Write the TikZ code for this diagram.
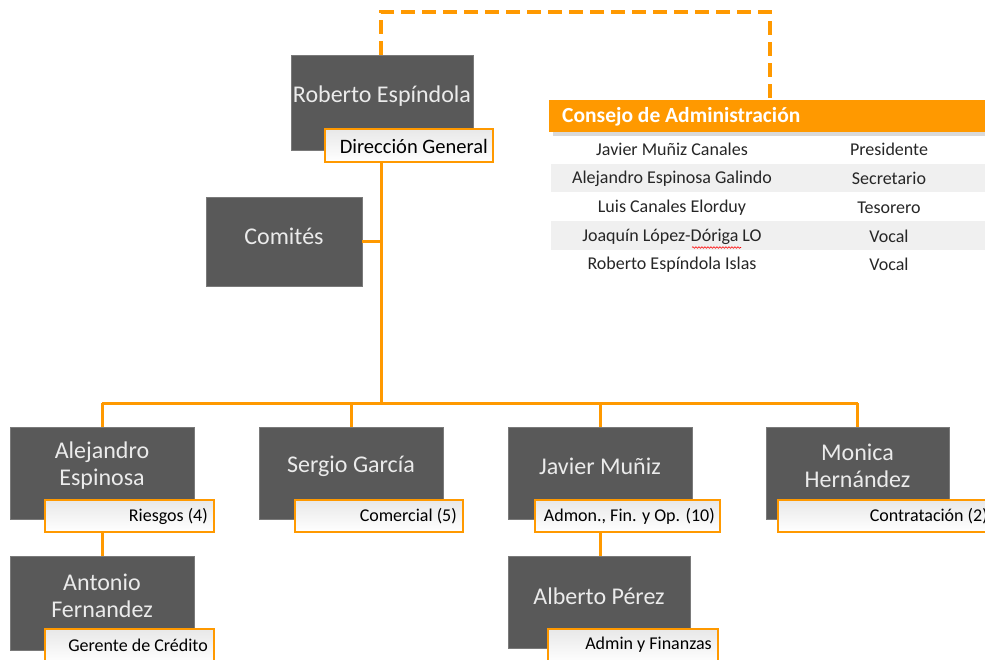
\documentclass[tikz,border=0pt]{standalone}
\usepackage{fontspec}
\setmainfont{Carlito}
\usetikzlibrary{decorations.pathmorphing}
\definecolor{org}{RGB}{255,153,0}
\definecolor{dk}{RGB}{89,89,89}
\definecolor{band}{RGB}{240,240,240}
\tikzset{
  namebox/.style={draw=dk!80, fill=dk, line width=0.5pt, inner sep=0pt},
  nametext/.style={text=white!92!black, font=\fontsize{24}{27}\selectfont, align=center, inner sep=0pt},
  lblbox/.style={draw=org, line width=2.6pt, top color=black!9, bottom color=white, inner sep=0pt},
  lbltext/.style={font=\fontsize{18}{20}\selectfont, anchor=east, inner sep=0pt, text=black},
  conn/.style={draw=org, line width=3pt},
  tbl/.style={font=\fontsize{18}{20}\selectfont, inner sep=0pt, text=black!85},
}
\begin{document}
\begin{tikzpicture}[x=1pt,y=-1pt]
\useasboundingbox (0,0) rectangle (985,660);
\clip (0,0) rectangle (985,660);
% ---- boxes
\node[namebox, minimum width=182, minimum height=95] (rob) at (382,102.5) {};
\node[nametext] (robt) at (382,96) {Roberto Espíndola};
\node[namebox, minimum width=156, minimum height=89] (comi) at (284,241.5) {};
\node[nametext] (comit) at (284,236) {Comités};
\node[namebox, minimum width=184, minimum height=92] (ale) at (102,473) {};
\node[nametext] (alet) at (102,466) {Alejandro\\Espinosa};
\node[namebox, minimum width=184, minimum height=92] (ser) at (351,473) {};
\node[nametext] (sert) at (351,466) {Sergio García};
\node[namebox, minimum width=184, minimum height=92] (jav) at (600,473) {};
\node[nametext] (javt) at (600,466) {Javier Muñiz};
\node[namebox, minimum width=183, minimum height=92] (mon) at (857.5,473) {};
\node[nametext] (mont) at (857.5,466) {Monica\\Hernández};
\node[namebox, minimum width=184, minimum height=94] (ant) at (102,603) {};
\node[nametext] (antt) at (102,596) {Antonio\\Fernandez};
\node[namebox, minimum width=182, minimum height=92] (alb) at (599,602) {};
\node[nametext] (albt) at (599,596) {Alberto Pérez};
% ---- labels
\node[lblbox, minimum width=168, minimum height=33] (dir) at (409,145.5) {};
\node[lbltext, font=\fontsize{20.5}{22}\selectfont] (dirt) at (488,146) {Dirección General};
\node[lblbox, minimum width=169, minimum height=32] (rie) at (129.5,516) {};
\node[lbltext] (riet) at (208,516) {Riesgos (4)};
\node[lblbox, minimum width=168, minimum height=32] (com) at (379,516) {};
\node[lbltext] (comt) at (457,516) {Comercial (5)};
\node[lblbox, minimum width=185, minimum height=32] (adm) at (627.5,516) {};
\node[lbltext] (admt) at (715,516) {Admon., Fin. y Op. (10)};
\node[lblbox, minimum width=214, minimum height=32] (con) at (885,516) {};
\node[lbltext] (cont) at (988,516) {Contratación (2)};
\node[lblbox, minimum width=169, minimum height=34] (ger) at (129.5,646) {};
\node[lbltext] (gert) at (208,645.5) {Gerente de Crédito};
\node[lblbox, minimum width=170, minimum height=34] (aym) at (633,646) {};
\node[lbltext] (aymt) at (712,645) {Admin y Finanzas};
% ---- consejo
\fill[black!25, opacity=0.6] (553,104) rectangle (990,136);
\node[fill=org, minimum width=440, minimum height=32, inner sep=0pt] (cons) at (769,116) {};
\node[anchor=west, inner sep=0pt, text=white, font=\bfseries\fontsize{21.5}{24}\selectfont] (const) at (562,117) {Consejo de Administración};
\fill[band] (551,164) rectangle (985,192);
\fill[band] (551,221.5) rectangle (985,250);
\node[tbl] (r1a) at (672,149.5) {Javier Muñiz Canales};
\node[tbl] (r1b) at (889,149.5) {Presidente};
\node[tbl] (r2a) at (672,178.5) {Alejandro Espinosa Galindo};
\node[tbl] (r2b) at (889,178.5) {Secretario};
\node[tbl] (r3a) at (672,207.5) {Luis Canales Elorduy};
\node[tbl] (r3b) at (889,207.5) {Tesorero};
\node[tbl] (r4a) at (672,236.5) {Joaquín López-Dóriga LO};
\node[tbl] (r4b) at (889,236.5) {Vocal};
\node[tbl] (r5a) at (672,264.5) {Roberto Espíndola Islas};
\node[tbl] (r5b) at (889,264.5) {Vocal};
\draw[red, line width=0.6pt, decorate, decoration={snake, amplitude=0.8pt, segment length=3pt}] (692,247.5) -- (741,247.5);
% ---- connectors
\coordinate (hub) at (381,403);
\coordinate (dtop) at (770,12);
\draw[conn, dashed, dash pattern=on 14pt off 7pt, line width=4pt] (rob.north -| hub) |- (dtop) -- (dtop |- cons.north);
\draw[conn] (hub |- dir.south) -- (hub);
\draw[conn] (comi.east) -- (comi.east -| hub);
\draw[conn] (hub -| ale.north) -- (hub -| mon.north);
\draw[conn] (hub -| ale.north) -- (ale.north);
\draw[conn] (hub -| ser.north) -- (ser.north);
\draw[conn] (hub -| jav.north) -- (jav.north);
\draw[conn] (hub -| mon.north) -- (mon.north);
\draw[conn] (rie.south -| ale) -- (ant.north);
\draw[conn] (adm.south -| jav) -- (jav |- alb.north);
\end{tikzpicture}
\end{document}
